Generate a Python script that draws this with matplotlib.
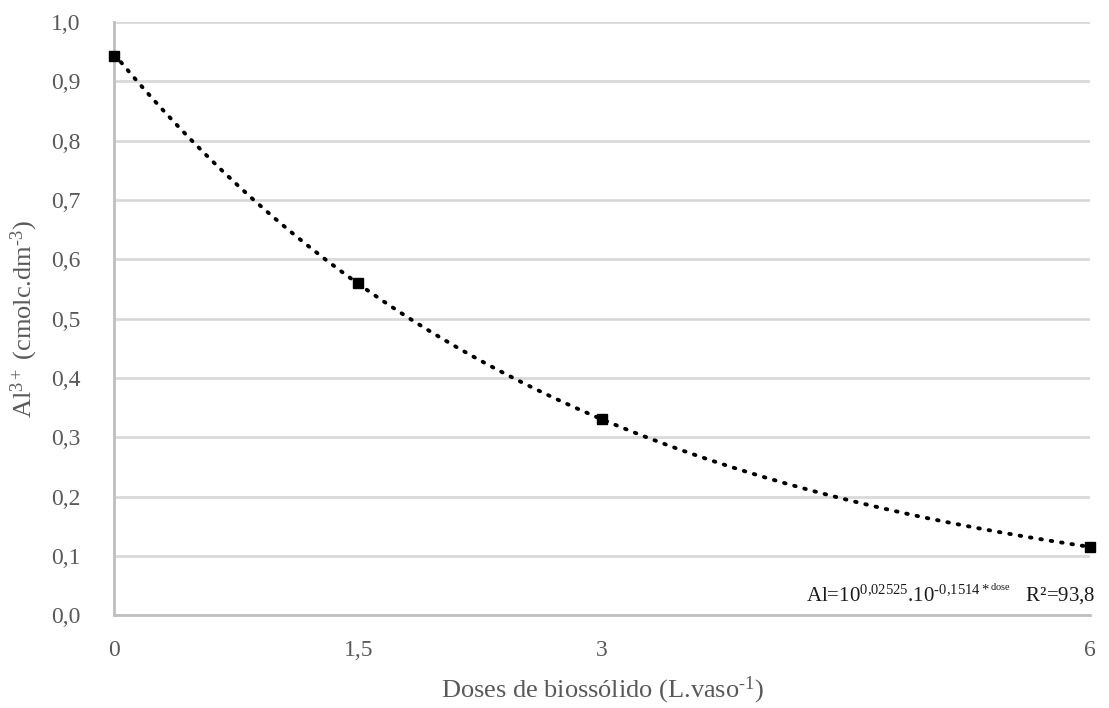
import numpy as np
import matplotlib.pyplot as plt

plt.rcParams['font.family'] = ['Liberation Serif', 'DejaVu Serif']
plt.rcParams['mathtext.fontset'] = 'custom'
plt.rcParams['mathtext.rm'] = 'Liberation Serif'
plt.rcParams['mathtext.it'] = 'Liberation Serif:italic'
plt.rcParams['mathtext.bf'] = 'Liberation Serif:bold'

doses = [0, 1.5, 3, 6]
al = [0.943, 0.560, 0.331, 0.115]
x_labels = ['0', '1,5', '3', '6']
y_ticks = [0.0, 0.1, 0.2, 0.3, 0.4, 0.5, 0.6, 0.7, 0.8, 0.9, 1.0]

txt_color = '#595959'

fig = plt.figure(figsize=(11.09, 7.08), dpi=100)
ax = fig.add_axes([0.103, 0.131, 0.880, 0.838])

# exponential trend line fitted to the points
b, a = np.polyfit(doses, np.log(al), 1)
xs = np.linspace(0, 6, 200)
ax.plot(xs, np.exp(a + b * xs), color='black', lw=2.8, linestyle=(0, (0.4, 2.3)),
        dash_capstyle='round', clip_on=False, zorder=3)
ax.plot(doses, al, 's', color='black', ms=7, clip_on=False, zorder=4)

ax.set_xlim(0, 6)
ax.set_ylim(0, 1.0)
ax.set_xticks(doses)
ax.set_xticklabels(x_labels)
ax.set_yticks(y_ticks)
ax.set_yticklabels([('%.1f' % v).replace('.', ',') for v in y_ticks])
ax.tick_params(length=0, labelsize=17, colors=txt_color)
ax.tick_params(axis='y', pad=24)
ax.tick_params(axis='x', pad=18)

ax.grid(axis='y', color='#d9d9d9', lw=2)
ax.set_axisbelow(True)
for s in ['top', 'right']:
    ax.spines[s].set_visible(False)
for s in ['left', 'bottom']:
    ax.spines[s].set_color('#bfbfbf')
    ax.spines[s].set_linewidth(2)

ax.set_xlabel(r'Doses de biossólido (L.vaso$^{\text{-}1}$)', fontsize=19, color=txt_color, labelpad=10)
ax.set_ylabel(r'Al$^{3+}$ (cmolc.dm$^{\text{-}3}$)', fontsize=19, color=txt_color, labelpad=8)

ax.text(1.006, 0.014, r'Al=10$^{0{,}02525}$.10$^{\text{-}0{,}1514*^{\mathrm{dose}}}$   R²=93,8',
        transform=ax.transAxes, ha='right', va='bottom', fontsize=15, color='#1a1a1a')

fig.savefig('out.png', dpi=100)
